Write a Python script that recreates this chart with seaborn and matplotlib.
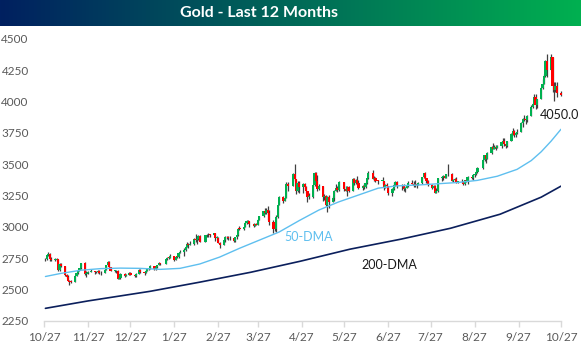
import numpy as np
import pandas as pd
import matplotlib
matplotlib.use("Agg")
import matplotlib.pyplot as plt
import matplotlib.dates as mdates
import seaborn as sns

# ---------------- data ----------------
holidays = ["2024-11-28", "2024-12-25", "2025-01-01", "2025-01-20", "2025-02-17",
            "2025-04-18", "2025-05-26", "2025-06-19", "2025-07-04", "2025-09-01"]
first_open = 2747

closes = [
    2743, 2774, 2788, 2744,
    2736, 2736, 2743, 2659, 2706, 2685, 2618, 2598, 2573, 2565, 2563, 2611, 2631, 2650, 2670, 2712, 2625, 2632, 2638, 2650,
    2639, 2643, 2650, 2631, 2633, 2660, 2694, 2718, 2680, 2648, 2652, 2646, 2587, 2595, 2622, 2613, 2617, 2634, 2621, 2606, 2624,
    2658, 2640, 2635, 2648, 2662, 2670, 2690, 2663, 2677, 2697, 2715, 2703, 2745, 2755, 2754, 2770, 2740, 2763, 2760, 2795, 2798,
    2815, 2843, 2867, 2856, 2861, 2907, 2898, 2905, 2928, 2883, 2935, 2933, 2939, 2936, 2951, 2915, 2916, 2875, 2858,
    2893, 2918, 2920, 2910, 2910, 2889, 2918, 2935, 2988, 2984, 3001, 3035, 3047, 3044, 3024, 3011, 3020, 3019, 3057, 3086, 3124,
    3113, 3134, 3113, 3037, 2982, 2982, 3083, 3175, 3237, 3210, 3230, 3343, 3327, 3424, 3381, 3289, 3349, 3319, 3344, 3317, 3288,
    3239, 3240, 3334, 3432, 3365, 3306, 3325, 3236, 3249, 3176, 3240, 3202, 3230, 3289, 3314, 3296, 3357, 3301, 3288, 3318, 3289,
    3381, 3353, 3374, 3352, 3310, 3325, 3323, 3354, 3387, 3433, 3385, 3388, 3370, 3368, 3369, 3323, 3332, 3328, 3274, 3303,
    3338, 3357, 3327, 3336, 3301, 3313, 3324, 3355, 3344, 3324, 3347, 3338, 3350, 3397, 3431, 3387, 3368, 3336, 3314, 3326, 3274, 3289,
    3388, 3398, 3405, 3394, 3421, 3423, 3367, 3373, 3380, 3361, 3361, 3357, 3340, 3372, 3363, 3396, 3390, 3418, 3422, 3441, 3473,
    3533, 3578, 3546, 3587, 3636, 3625, 3640, 3634, 3643, 3679, 3690, 3659, 3644, 3685, 3746, 3764, 3736, 3749, 3760, 3833, 3859,
    3865, 3857, 3887, 3961, 3985, 4041, 3976, 4018, 4110, 4143, 4208, 4326, 4252, 4356, 4125, 4095, 4126, 4070, 4050,
]
highs = [
    2750, 2775, 2801, 2790,
    2763, 2750, 2750, 2746, 2710, 2709, 2686, 2627, 2618, 2580, 2580, 2616, 2639, 2656, 2675, 2716, 2720, 2645, 2648, 2665,
    2651, 2650, 2657, 2655, 2645, 2670, 2700, 2725, 2726, 2684, 2660, 2655, 2654, 2612, 2632, 2630, 2622, 2639, 2638, 2628, 2630,
    2665, 2666, 2650, 2665, 2670, 2675, 2697, 2691, 2680, 2700, 2724, 2716, 2746, 2763, 2761, 2786, 2772, 2765, 2770, 2800, 2817,
    2830, 2845, 2882, 2872, 2886, 2911, 2942, 2910, 2935, 2940, 2938, 2947, 2955, 2946, 2956, 2953, 2930, 2917, 2877,
    2897, 2928, 2930, 2927, 2930, 2914, 2920, 2940, 2990, 3005, 3003, 3038, 3055, 3058, 3048, 3030, 3025, 3033, 3060, 3087, 3128,
    3149, 3148, 3167, 3136, 3055, 3023, 3099, 3176, 3245, 3245, 3234, 3358, 3357, 3430, 3500, 3386, 3367, 3371, 3352, 3352, 3327,
    3291, 3269, 3335, 3437, 3435, 3414, 3347, 3330, 3264, 3253, 3244, 3252, 3250, 3295, 3345, 3326, 3366, 3350, 3325, 3330, 3325,
    3391, 3392, 3384, 3403, 3375, 3337, 3348, 3360, 3391, 3446, 3452, 3403, 3397, 3375, 3398, 3368, 3342, 3350, 3328, 3308,
    3358, 3366, 3365, 3345, 3346, 3318, 3330, 3369, 3375, 3366, 3378, 3352, 3360, 3402, 3434, 3439, 3394, 3373, 3345, 3334, 3334, 3315,
    3388, 3410, 3415, 3410, 3423, 3500, 3429, 3383, 3393, 3400, 3371, 3383, 3368, 3375, 3375, 3404, 3401, 3419, 3423, 3448, 3478,
    3540, 3578, 3563, 3600, 3646, 3674, 3657, 3651, 3656, 3685, 3707, 3708, 3666, 3687, 3749, 3791, 3770, 3761, 3782, 3835, 3872,
    3895, 3875, 3890, 3977, 3990, 4060, 4060, 4022, 4116, 4180, 4218, 4330, 4380, 4381, 4360, 4160, 4160, 4160, 4085,
]
lows = [
    2732, 2738, 2770, 2730,
    2731, 2726, 2726, 2652, 2645, 2677, 2611, 2590, 2566, 2536, 2557, 2563, 2606, 2623, 2646, 2667, 2615, 2605, 2622, 2640,
    2622, 2630, 2630, 2623, 2614, 2630, 2656, 2691, 2678, 2646, 2643, 2635, 2584, 2583, 2585, 2605, 2608, 2614, 2616, 2602, 2605,
    2623, 2634, 2615, 2630, 2645, 2658, 2665, 2656, 2659, 2670, 2694, 2698, 2701, 2740, 2743, 2752, 2730, 2737, 2750, 2752, 2790,
    2771, 2810, 2840, 2834, 2853, 2860, 2880, 2864, 2900, 2880, 2885, 2920, 2920, 2918, 2934, 2890, 2903, 2872, 2833,
    2858, 2882, 2908, 2896, 2899, 2880, 2880, 2906, 2932, 2976, 2980, 2997, 3024, 3028, 2999, 3003, 3007, 3013, 3016, 3055, 3077,
    3100, 3105, 3054, 3015, 2956, 2970, 2957, 3073, 3174, 3193, 3205, 3229, 3285, 3325, 3367, 3260, 3280, 3268, 3270, 3305, 3268,
    3202, 3222, 3228, 3330, 3360, 3287, 3298, 3207, 3219, 3170, 3120, 3153, 3207, 3204, 3285, 3278, 3287, 3285, 3285, 3245, 3278,
    3288, 3334, 3345, 3339, 3307, 3293, 3300, 3313, 3340, 3385, 3381, 3366, 3362, 3340, 3347, 3295, 3310, 3315, 3255, 3247,
    3297, 3330, 3311, 3297, 3287, 3283, 3310, 3322, 3341, 3320, 3320, 3310, 3332, 3345, 3388, 3381, 3351, 3325, 3301, 3308, 3268, 3268,
    3281, 3371, 3377, 3387, 3387, 3405, 3366, 3356, 3368, 3355, 3355, 3348, 3336, 3336, 3357, 3346, 3382, 3376, 3398, 3411, 3433,
    3465, 3527, 3511, 3543, 3584, 3620, 3620, 3612, 3634, 3634, 3674, 3645, 3627, 3640, 3684, 3735, 3717, 3722, 3744, 3758, 3794,
    3848, 3820, 3840, 3886, 3950, 3985, 3945, 3947, 4018, 4100, 4140, 4200, 4200, 4250, 4080, 4005, 4080, 4040, 4045,
]

dma50_dates = ["2024-10-28", "2024-11-08", "2024-11-22", "2024-12-06", "2024-12-20", "2025-01-03",
               "2025-01-17", "2025-01-31", "2025-02-14", "2025-02-28", "2025-03-14", "2025-03-28",
               "2025-04-11", "2025-04-25", "2025-05-09", "2025-05-23", "2025-06-06", "2025-06-20",
               "2025-07-03", "2025-07-18", "2025-08-01", "2025-08-15", "2025-08-29", "2025-09-12",
               "2025-09-26", "2025-10-06", "2025-10-13", "2025-10-20", "2025-10-27"]
dma50_values = [2605, 2630, 2655, 2668, 2672, 2670, 2662, 2670, 2705, 2760, 2830, 2895,
                2960, 3050, 3135, 3200, 3255, 3310, 3328, 3335, 3345, 3355, 3372, 3405,
                3460, 3530, 3600, 3685, 3780]

dma200_dates = ["2024-10-28", "2024-11-27", "2025-01-10", "2025-02-14", "2025-03-22", "2025-04-26",
                "2025-05-31", "2025-07-06", "2025-08-10", "2025-09-14", "2025-10-13", "2025-10-27"]
dma200_values = [2351, 2410, 2487, 2560, 2639, 2727, 2823, 2903, 2990, 3102, 3238, 3326]

y_ticks = [2250, 2500, 2750, 3000, 3250, 3500, 3750, 4000, 4250, 4500]
x_tick_dates = ["2024-10-27", "2024-11-27", "2024-12-27", "2025-01-27", "2025-02-27", "2025-03-27",
                "2025-04-27", "2025-05-27", "2025-06-27", "2025-07-27", "2025-08-27", "2025-09-27",
                "2025-10-27"]
last_label = "4050.0"

# ---------------- figure ----------------
sns.set_theme(style="white")
plt.rcParams["font.family"] = ["Lato", "DejaVu Sans"]

W, H = 581, 349
fig = plt.figure(figsize=(W / 100, H / 100), dpi=100)

# title banner with gradient
bax = fig.add_axes([0, 1 - 26 / H, 1, 26 / H])
c1 = np.array([0x00, 0x20, 0x60]) / 255
c2 = np.array([0x00, 0xB0, 0x50]) / 255
t = np.linspace(0, 1, 256)[None, :, None]
grad = c1 * (1 - t) + c2 * t
bax.imshow(grad, aspect="auto", extent=[0, 1, 0, 1])
bax.set_axis_off()
bax.text(0.446, 0.5, "Gold - Last 12 Months", color="white", fontsize=11.5,
         fontweight="bold", ha="center", va="center")

left, right = 44 / W, 561 / W
bottom, top = (H - 321) / H, (H - 39) / H
ax = fig.add_axes([left, bottom, right - left, top - bottom])

dates = pd.bdate_range("2024-10-28", "2025-10-27", freq="C", holidays=holidays)
c = np.array(closes, float)
o = np.concatenate([[first_open], c[:-1]])
hi = np.maximum(np.array(highs, float), np.maximum(o, c))
lo = np.minimum(np.array(lows, float), np.minimum(o, c))
xd = mdates.date2num(dates)

up = c >= o
colors = np.where(up, "#00B050", "#FF0000")
ax.vlines(xd, lo, hi, color="#404040", lw=0.9, zorder=2, clip_on=False)
body_bottom = np.minimum(o, c)
body_h = np.maximum(np.abs(c - o), 5)
ax.bar(xd, body_h, bottom=body_bottom, width=1.55, color=colors, linewidth=0,
       zorder=3, clip_on=False)

df50 = pd.DataFrame({"date": pd.to_datetime(dma50_dates), "value": dma50_values})
df200 = pd.DataFrame({"date": pd.to_datetime(dma200_dates), "value": dma200_values})
sns.lineplot(data=df50, x="date", y="value", color="#5EBFEF", lw=1.0, ax=ax, zorder=4)
sns.lineplot(data=df200, x="date", y="value", color="#0B1F5C", lw=1.2, ax=ax, zorder=4)

ax.set_xlim(mdates.date2num(pd.Timestamp("2024-10-27")), mdates.date2num(pd.Timestamp("2025-10-27")))
ax.set_ylim(2250, 4500)
ax.set_xlabel("")
ax.set_ylabel("")

xt = pd.to_datetime(x_tick_dates)
ax.set_xticks(mdates.date2num(xt))
ax.set_xticklabels([f"{d.month}/{d.day}" for d in xt])
ax.set_yticks(y_ticks)
ax.set_yticklabels([str(v) for v in y_ticks])

for s in ["top", "right", "left"]:
    ax.spines[s].set_visible(False)
ax.spines["bottom"].set_color("#D9D9D9")
ax.spines["bottom"].set_linewidth(1.0)
ax.tick_params(axis="x", which="major", length=4, width=1, color="#D9D9D9",
               labelsize=8.5, labelcolor="#595959", pad=4, direction="out", bottom=True)
ax.tick_params(axis="y", length=0, labelsize=8.5, labelcolor="#595959", pad=11)
ax.grid(False)
ax.set_facecolor("none")

fig.text(559 / W, 1 - 115 / H, last_label, fontsize=9, color="#1A1A1A", ha="center", va="center")
fig.text(309 / W, 1 - 237 / H, "50-DMA", fontsize=9, color="#5EBFEF", ha="center", va="center")
fig.text(389 / W, 1 - 265 / H, "200-DMA", fontsize=9, color="#1A1A1A", ha="center", va="center")

fig.savefig("out.png", dpi=100)
